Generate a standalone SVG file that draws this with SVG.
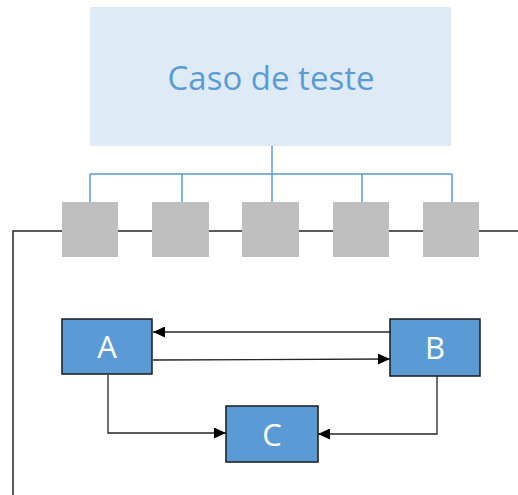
<svg xmlns="http://www.w3.org/2000/svg" width="518" height="495" viewBox="0 0 518 495">
  <style>
    .label { font-family: "Open Sans", "Noto Sans", "Liberation Sans", sans-serif; text-anchor: middle; dominant-baseline: central; }
    .title { fill: #5b9bd5; font-size: 33px; }
    .node-text { fill: #ffffff; font-size: 31px; }
    .step { fill: #bfbfbf; }
    .node { fill: #5b9bd5; stroke: #1a1a1a; stroke-width: 1.5; }
    .tree { fill: none; stroke: #5b9bd5; stroke-width: 1.5; }
    .wire { fill: none; stroke: #262626; stroke-width: 1.5; }
    .flow { fill: none; stroke: #262626; stroke-width: 1.3; marker-end: url(#arrow); }
  </style>
  <defs>
    <marker id="arrow" viewBox="0 0 12 11" refX="12" refY="5.5" markerWidth="12" markerHeight="11" markerUnits="userSpaceOnUse" orient="auto">
      <path d="M0,0 L12,5.5 L0,11 Z" fill="#000000"/>
    </marker>
  </defs>

  <rect width="518" height="495" fill="#ffffff"/>

  <!-- test case header -->
  <g id="test-case">
    <rect x="90" y="7" width="361" height="139" fill="#deebf7"/>
    <text class="label title" x="271" y="77">Caso de teste</text>
  </g>

  <g id="connectors">
    <!-- tree from header to the steps -->
    <path class="tree" d="M272,146 V174 M90,174 H452 M90,174 V202 M182,174 V202 M272,174 V202 M362,174 V202 M452,174 V202"/>
    <!-- timeline -->
    <path class="wire" d="M518,231 H13 V495"/>
    <!-- flows between A, B and C -->
    <path class="flow" d="M390,332 H153"/>
    <path class="flow" d="M153,360 L390,359"/>
    <path class="flow" d="M108,375 V433 H226"/>
    <path class="flow" d="M437,376 V434 H318"/>
  </g>

  <!-- steps on the timeline -->
  <g id="step-1"><rect class="step" x="62" y="202" width="56" height="55"/></g>
  <g id="step-2"><rect class="step" x="152" y="202" width="57" height="55"/></g>
  <g id="step-3"><rect class="step" x="242" y="202" width="57" height="55"/></g>
  <g id="step-4"><rect class="step" x="333" y="202" width="56" height="55"/></g>
  <g id="step-5"><rect class="step" x="423" y="202" width="56" height="55"/></g>

  <g id="node-a">
    <rect class="node" x="62" y="319" width="90" height="55"/>
    <text class="label node-text" x="107" y="346">A</text>
  </g>
  <g id="node-b">
    <rect class="node" x="390" y="319" width="90" height="57"/>
    <text class="label node-text" x="435" y="347">B</text>
  </g>
  <g id="node-c">
    <rect class="node" x="226" y="406" width="92" height="56"/>
    <text class="label node-text" x="272" y="434">C</text>
  </g>
</svg>
